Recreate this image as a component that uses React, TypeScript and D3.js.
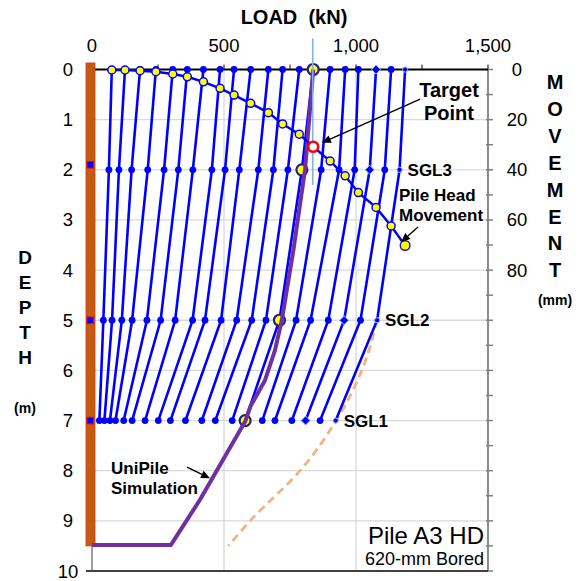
import React from 'react';
import * as d3 from 'd3';

const W = 582;
const H = 581;
const FONT = "'Liberation Sans', Arial, Helvetica, sans-serif";

// Strain-gauge levels (m) at which the load is known for every step
const gaugeDepths = [0, 2, 5, 7];
const gaugeNames = ['SGL3', 'SGL2', 'SGL1'];

// Load (kN) per load step: pile head, SGL3, SGL2, SGL1
const loadHead = [75, 125, 182, 242, 306, 361, 422, 485, 538, 601, 668, 722, 785, 838, 902, 959, 1009, 1076, 1133, 1186];
const loadSGL3 = [64, 102, 150, 211, 273, 327, 382, 454, 504, 558, 630, 687, 742, 795, 868, 936, 995, 1052, 1109, 1165];
const loadSGL2 = [43, 76, 113, 152, 208, 260, 315, 381, 428, 489, 548, 605, 659, 710, 773, 828, 895, 955, 1017, 1080];
const loadSGL1 = [28, 47, 68, 89, 120, 152, 201, 251, 297, 354, 416, 467, 531, 580, 645, 693, 757, 809, 864, 923];

// Pile head movement (mm) for each load step
const headMovement = [0.2, 0.2, 0.5, 0.9, 1.8, 2.9, 4.9, 7.5, 10.2, 13.5, 17.2, 21.7, 25.8, 30.8, 36.5, 42.4, 49.1, 55.0, 62.4, 70.2];

const targetStep = 13;
const diamondStep = 17;
const lastStep = 19;

// UniPile simulated load distribution
const unipileLoad = [838, 807, 763, 719, 693, 655, 600, 580, 409, 299, 0];
const unipileDepth = [0, 2, 3.6, 5, 5.6, 6.2, 6.72, 7.02, 8.58, 9.48, 9.48];

// Extrapolated distribution below SGL2 for the last step
const extrapLoad = [1080, 1022, 925, 788, 599, 516];
const extrapDepth = [5, 6, 7, 8, 9, 9.5];

// Axes
const loadLabels = [0, 500, 1000, 1500];
const loadGrid = [500, 1000];
const loadMinor = [0, 250, 500, 750, 1000, 1250, 1500];
const depthLabels = [0, 1, 2, 3, 4, 5, 6, 7, 8, 9, 10];
const depthGrid = [1, 2, 3, 4, 5, 6, 7, 8, 9];
const movementLabels = [0, 20, 40, 60, 80];
const movementTicks = [0, 10, 20, 30, 40, 50, 60, 70, 80, 90, 100, 110, 120, 130, 140, 150, 160, 170, 180, 190, 200];

// Pile and gauge positions (m)
const pileTop = -0.13;
const pileToe = 9.5;
const gaugeMarks = [1.9, 5, 7];

// Light-blue guide at the target load
const guideTop = -0.62;
const guideBottom = 2.3;

const BLUE = '#0000FF';
const LIGHT = '#9DC3E6';

function Arrow({ x1, y1, x2, y2 }: { x1: number; y1: number; x2: number; y2: number }) {
  const a = Math.atan2(y2 - y1, x2 - x1);
  const len = 9;
  const w = 4;
  const bx = x2 - len * Math.cos(a);
  const by = y2 - len * Math.sin(a);
  const p = [
    [x2, y2],
    [bx + w * Math.sin(a), by - w * Math.cos(a)],
    [bx - w * Math.sin(a), by + w * Math.cos(a)],
  ];
  return (
    <g>
      <line x1={x1} y1={y1} x2={bx} y2={by} stroke="#000" strokeWidth={1.4} />
      <polygon points={p.map((q) => q.join(',')).join(' ')} fill="#000" />
    </g>
  );
}

export default function App() {
  const x = d3.scaleLinear().domain([0, 1500]).range([92, 488]);
  const y = d3.scaleLinear().domain([0, 10]).range([69.5, 571]);
  const mv = d3.scaleLinear().domain([0, 200]).range([69.5, 571]);

  const levels = [loadHead, loadSGL3, loadSGL2, loadSGL1];
  const steps = loadHead.map((_, i) => levels.map((lv, k) => ({ load: lv[i], depth: gaugeDepths[k] })));

  const distLine = d3
    .line<{ load: number; depth: number }>()
    .x((d) => x(d.load))
    .y((d) => y(d.depth));

  const unipile = d3
    .line<number>()
    .x((d) => x(d))
    .y((_, i) => y(unipileDepth[i]));

  const extrap = d3
    .line<number>()
    .x((d) => x(d))
    .y((_, i) => y(extrapDepth[i]))
    .curve(d3.curveMonotoneY);

  const movement = d3
    .line<number>()
    .x((_, i) => x(loadHead[i]))
    .y((d) => mv(d));

  const left = x(0);
  const right = x(1500);
  const top = y(0);
  const bottom = y(10);

  const marker = (i: number, p: { load: number; depth: number }, k: number) => {
    const cx = x(p.load);
    const cy = y(p.depth);
    if (i === targetStep) {
      return <circle key={k} cx={cx} cy={cy} r={5.5} fill="#FFFF00" stroke="#1F1F8F" strokeWidth={2.2} />;
    }
    if (i === diamondStep) {
      const s = 4.5;
      return (
        <polygon
          key={k}
          points={`${cx},${cy - s} ${cx + s},${cy} ${cx},${cy + s} ${cx - s},${cy}`}
          fill={BLUE}
          stroke={LIGHT}
          strokeWidth={1}
        />
      );
    }
    if (i === lastStep) {
      return <circle key={k} cx={cx} cy={cy} r={2.6} fill={BLUE} stroke={LIGHT} strokeWidth={1} />;
    }
    return <circle key={k} cx={cx} cy={cy} r={3.4} fill={BLUE} />;
  };

  const boldLabel = { fontFamily: FONT, fontWeight: 700, fill: '#000' } as const;

  return (
    <svg width={W} height={H} style={{ position: 'absolute', left: 0, top: 0, background: '#fff' }}>
      <rect width={W} height={H} fill="#fff" />

      {/* grid */}
      {depthGrid.map((d) => (
        <line key={'gy' + d} x1={left} x2={right} y1={y(d)} y2={y(d)} stroke="#D9D9D9" strokeWidth={1.3} />
      ))}
      {loadGrid.map((v) => (
        <line key={'gx' + v} x1={x(v)} x2={x(v)} y1={top} y2={bottom} stroke="#D9D9D9" strokeWidth={1.3} />
      ))}

      {/* frame */}
      <line x1={left} x2={left} y1={top} y2={bottom} stroke="#808080" strokeWidth={1.5} />
      <line x1={right} x2={right} y1={top} y2={bottom} stroke="#808080" strokeWidth={1.8} />
      {movementTicks.map((m) => (
        <line key={'mt' + m} x1={right - 2} x2={right + 5} y1={mv(m)} y2={mv(m)} stroke="#808080" strokeWidth={1.5} />
      ))}
      <line x1={left - 6} x2={right} y1={bottom} y2={bottom} stroke="#404040" strokeWidth={1.8} />
      {loadMinor.map((v) => (
        <line key={'lt' + v} x1={x(v)} x2={x(v)} y1={top - 5} y2={top} stroke="#595959" strokeWidth={1.5} />
      ))}
      <line x1={left} x2={right} y1={top} y2={top} stroke="#000" strokeWidth={2} />

      {/* pile */}
      <rect
        x={x(0) - 6}
        y={y(pileTop)}
        width={9}
        height={y(pileToe) - y(pileTop)}
        fill="#C55A11"
        stroke="#E2321A"
        strokeWidth={0.8}
      />
      {gaugeMarks.map((d) => (
        <rect key={'gm' + d} x={x(0) - 5} y={y(d) - 3.3} width={6.6} height={6.6} fill={BLUE} stroke="#FF0000" strokeWidth={1} />
      ))}

      {/* extrapolated distribution */}
      <path d={extrap(extrapLoad) ?? ''} fill="none" stroke="#F4B183" strokeWidth={2.8} strokeDasharray="8 5" />

      {/* measured load distributions */}
      {steps.map((s, i) => (
        <path key={'l' + i} d={distLine(s) ?? ''} fill="none" stroke={BLUE} strokeWidth={2.6} />
      ))}
      {steps.map((s, i) => (
        <g key={'m' + i}>{s.map((p, k) => marker(i, p, k))}</g>
      ))}

      {/* UniPile simulation */}
      <path d={unipile(unipileLoad) ?? ''} fill="none" stroke="#7030A0" strokeWidth={4} strokeLinejoin="round" />

      {/* target guide */}
      <line
        x1={x(loadHead[targetStep]) - 0.5}
        x2={x(loadHead[targetStep]) - 0.5}
        y1={y(guideTop)}
        y2={y(guideBottom)}
        stroke="#7FB2E5"
        strokeWidth={1.6}
      />

      {/* pile head movement */}
      <path d={movement(headMovement) ?? ''} fill="none" stroke={BLUE} strokeWidth={2.4} />
      {headMovement.map((m, i) =>
        i === targetStep ? (
          <circle key={'hm' + i} cx={x(loadHead[i])} cy={mv(m)} r={5} fill="#fff" stroke="#FF0000" strokeWidth={2.6} />
        ) : (
          <circle
            key={'hm' + i}
            cx={x(loadHead[i])}
            cy={mv(m)}
            r={i === lastStep ? 4.8 : 4}
            fill="#FFFF00"
            stroke={i === lastStep ? '#1F1F8F' : BLUE}
            strokeWidth={1.5}
          />
        )
      )}

      {/* top axis */}
      <text x={294} y={24} textAnchor="middle" style={{ ...boldLabel, fontSize: 20 }} xmlSpace="preserve">
        LOAD  (kN)
      </text>
      {loadLabels.map((v) => (
        <text key={'ll' + v} x={x(v)} y={52} textAnchor="middle" fontFamily={FONT} fontSize={18.5} fill="#000">
          {d3.format(',')(v)}
        </text>
      ))}

      {/* left axis */}
      {depthLabels.map((d) => (
        <text key={'dl' + d} x={68} y={y(d) + 6.5} textAnchor="middle" fontFamily={FONT} fontSize={18.5} fill="#000">
          {d}
        </text>
      ))}
      {'DEPTH'.split('').map((c, i) => (
        <text key={'dt' + i} x={25} y={264 + i * 25} textAnchor="middle" style={{ ...boldLabel, fontSize: 19 }}>
          {c}
        </text>
      ))}
      <text x={25} y={413} textAnchor="middle" style={{ ...boldLabel, fontSize: 14 }}>
        (m)
      </text>

      {/* right axis */}
      {movementLabels.map((m) => (
        <text key={'ml' + m} x={517} y={mv(m) + 6.5} textAnchor="middle" fontFamily={FONT} fontSize={18.5} fill="#000">
          {m}
        </text>
      ))}
      {'MOVEMENT'.split('').map((c, i) => (
        <text key={'mvt' + i} x={555} y={89 + i * 26.9} textAnchor="middle" style={{ ...boldLabel, fontSize: 20 }}>
          {c}
        </text>
      ))}
      <text x={555} y={305} textAnchor="middle" style={{ ...boldLabel, fontSize: 14 }}>
        (mm)
      </text>

      {/* annotations */}
      <text x={449} y={97} textAnchor="middle" style={{ ...boldLabel, fontSize: 20 }}>
        Target
      </text>
      <text x={449} y={120} textAnchor="middle" style={{ ...boldLabel, fontSize: 20 }}>
        Point
      </text>
      <Arrow x1={x(1243)} y1={y(0.59)} x2={x(871)} y2={y(1.46)} />

      {gaugeNames.map((n, k) => (
        <text
          key={n}
          x={x(levels[k + 1][lastStep]) + 8}
          y={y(gaugeDepths[k + 1]) + 6}
          style={{ ...boldLabel, fontSize: 17 }}
        >
          {n}
        </text>
      ))}

      <text x={399} y={201} style={{ ...boldLabel, fontSize: 17 }}>
        Pile Head
      </text>
      <text x={399} y={221} style={{ ...boldLabel, fontSize: 17 }}>
        Movement
      </text>
      <Arrow x1={x(1235)} y1={y(3.14)} x2={x(1171)} y2={y(3.44)} />

      <text x={111} y={474} style={{ ...boldLabel, fontSize: 17 }}>
        UniPile
      </text>
      <text x={111} y={494} style={{ ...boldLabel, fontSize: 17 }}>
        Simulation
      </text>
      <Arrow x1={x(360)} y1={y(7.93)} x2={x(447)} y2={y(8.15)} />

      <text x={484} y={544} textAnchor="end" fontFamily={FONT} fontSize={24} fill="#000">
        Pile A3 HD
      </text>
      <text x={484} y={565} textAnchor="end" fontFamily={FONT} fontSize={18} fill="#000">
        620-mm Bored
      </text>
    </svg>
  );
}
